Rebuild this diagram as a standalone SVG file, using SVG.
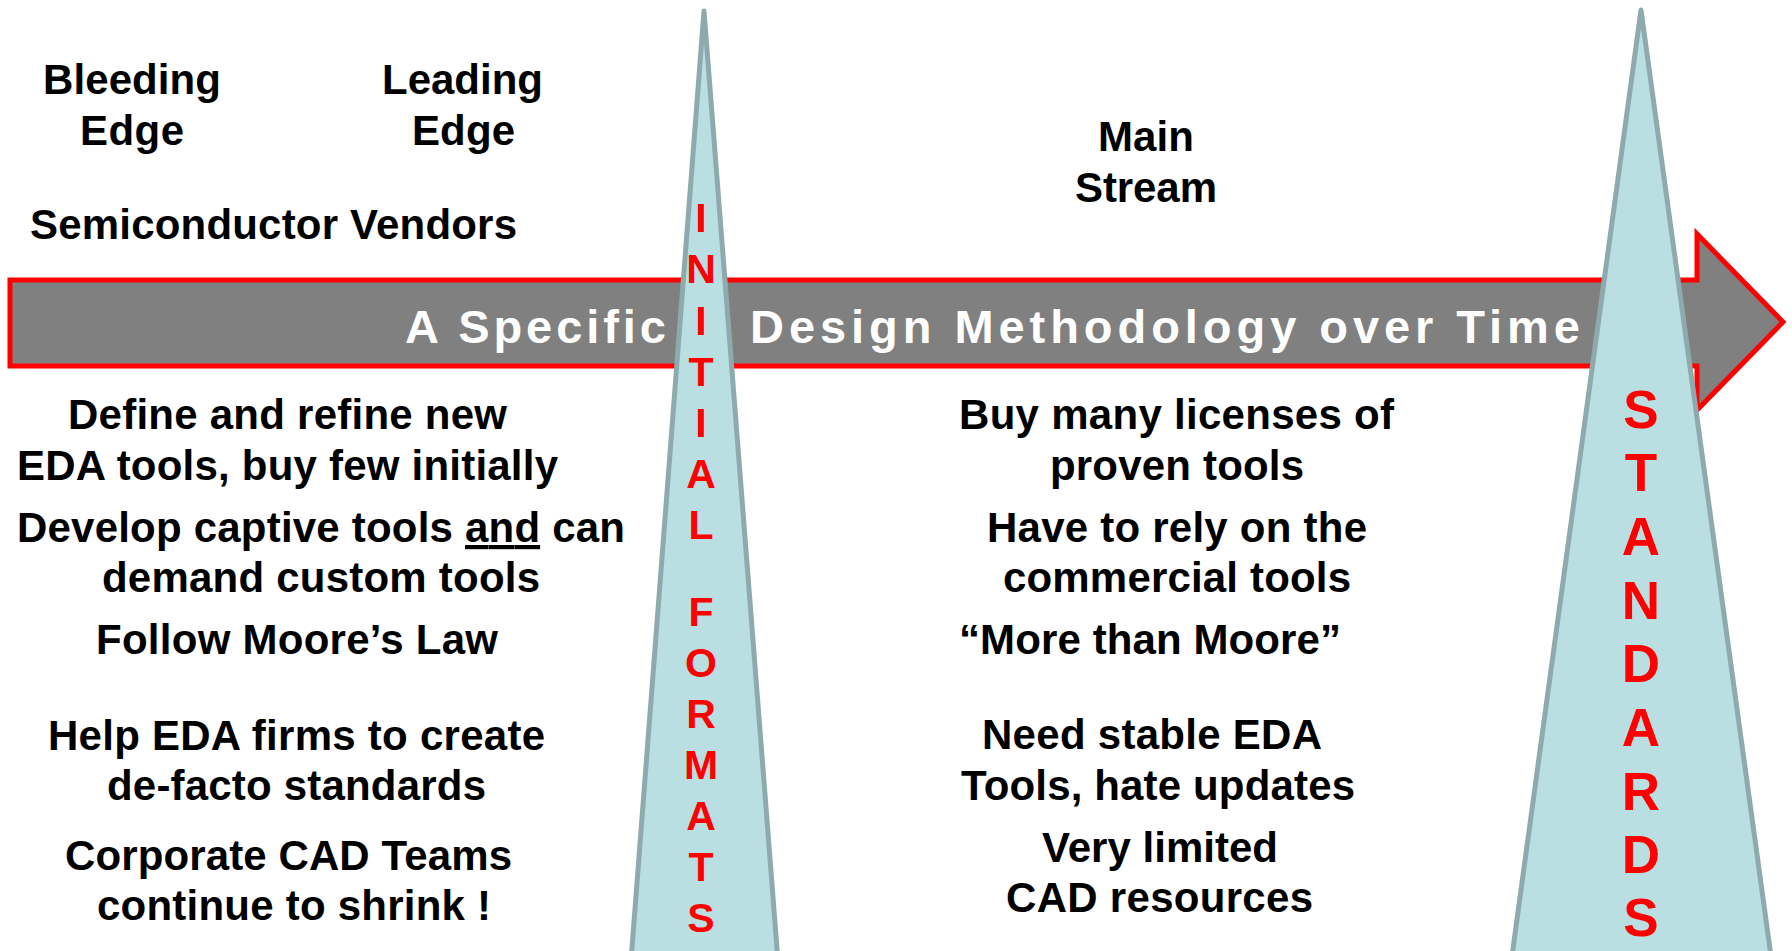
<svg xmlns="http://www.w3.org/2000/svg" width="1792" height="951" viewBox="0 0 1792 951">
<style>
.t{font-family:"Liberation Sans",Arial,sans-serif;font-weight:bold;font-size:42px;fill:#000}
.bt{font-family:"Liberation Sans",Arial,sans-serif;font-weight:bold;font-size:47px;fill:#fff}
.init{font-family:"Liberation Sans",Arial,sans-serif;font-weight:bold;font-size:41px;fill:#f00;text-anchor:middle}
.std{font-family:"Liberation Sans",Arial,sans-serif;font-weight:bold;font-size:53px;fill:#f00;text-anchor:middle}
.tri{fill:#badfe3;stroke:#8eaaac;stroke-width:5;stroke-linejoin:round}
.u{text-decoration:underline}
</style>
<rect width="1792" height="951" fill="#fff"/>
<g id="timeline">
<path d="M10,280 H1697 V234 L1783,322 L1697,410 V366 H10 Z" fill="#808080" stroke="#f00" stroke-width="5" stroke-miterlimit="10"/>
<text class="bt" x="405" y="343" textLength="261" lengthAdjust="spacing">A Specific</text>
<text class="bt" x="750" y="343" textLength="830" lengthAdjust="spacing">Design Methodology over Time</text>
</g>
<g id="initial-formats">
<polygon class="tri" points="704,11 628,1000 781,1000"/>
<text class="init" x="701" y="232">I</text>
<text class="init" x="701" y="283">N</text>
<text class="init" x="701" y="335">I</text>
<text class="init" x="701" y="386">T</text>
<text class="init" x="701" y="437">I</text>
<text class="init" x="701" y="488">A</text>
<text class="init" x="701" y="539">L</text>
<text class="init" x="701" y="626">F</text>
<text class="init" x="701" y="677">O</text>
<text class="init" x="701" y="728">R</text>
<text class="init" x="701" y="779">M</text>
<text class="init" x="701" y="830">A</text>
<text class="init" x="701" y="881">T</text>
<text class="init" x="701" y="932">S</text>
</g>
<g id="standards">
<polygon class="tri" points="1641,10 1506,1000 1777,1000"/>
<text class="std" x="1641" y="428">S</text>
<text class="std" x="1641" y="491">T</text>
<text class="std" x="1641" y="555">A</text>
<text class="std" x="1641" y="619">N</text>
<text class="std" x="1641" y="682">D</text>
<text class="std" x="1641" y="746">A</text>
<text class="std" x="1641" y="810">R</text>
<text class="std" x="1641" y="873">D</text>
<text class="std" x="1641" y="936">S</text>
</g>
<g id="bleeding-edge">
<text class="t" x="43" y="94" textLength="178" lengthAdjust="spacing">Bleeding</text>
<text class="t" x="80" y="145" textLength="104" lengthAdjust="spacing">Edge</text>
</g>
<g id="leading-edge">
<text class="t" x="382" y="94" textLength="161" lengthAdjust="spacing">Leading</text>
<text class="t" x="412" y="145" textLength="103" lengthAdjust="spacing">Edge</text>
</g>
<g id="semiconductor-vendors">
<text class="t" x="30" y="239" textLength="487" lengthAdjust="spacing">Semiconductor Vendors</text>
</g>
<g id="main-stream">
<text class="t" x="1098" y="151" textLength="96" lengthAdjust="spacing">Main</text>
<text class="t" x="1075" y="202" textLength="142" lengthAdjust="spacing">Stream</text>
</g>
<g id="left-column">
<text class="t" x="68" y="429" textLength="439" lengthAdjust="spacing">Define and refine new</text>
<text class="t" x="17" y="480" textLength="541" lengthAdjust="spacing">EDA tools, buy few initially</text>
<text class="t" x="17" y="542" textLength="608" lengthAdjust="spacing">Develop captive tools <tspan class="u">and</tspan> can</text>
<text class="t" x="102" y="592" textLength="438" lengthAdjust="spacing">demand custom tools</text>
<text class="t" x="96" y="654" textLength="402" lengthAdjust="spacing">Follow Moore’s Law</text>
<text class="t" x="48" y="750" textLength="497" lengthAdjust="spacing">Help EDA firms to create</text>
<text class="t" x="107" y="800" textLength="379" lengthAdjust="spacing">de-facto standards</text>
<text class="t" x="65" y="870" textLength="447" lengthAdjust="spacing">Corporate CAD Teams</text>
<text class="t" x="97" y="920" textLength="394" lengthAdjust="spacing">continue to shrink !</text>
</g>
<g id="right-column">
<text class="t" x="959" y="429" textLength="435" lengthAdjust="spacing">Buy many licenses of</text>
<text class="t" x="1050" y="480" textLength="254" lengthAdjust="spacing">proven tools</text>
<text class="t" x="987" y="542" textLength="380" lengthAdjust="spacing">Have to rely on the</text>
<text class="t" x="1003" y="592" textLength="348" lengthAdjust="spacing">commercial tools</text>
<text class="t" x="959" y="654" textLength="382" lengthAdjust="spacing">“More than Moore”</text>
<text class="t" x="982" y="749" textLength="340" lengthAdjust="spacing">Need stable EDA</text>
<text class="t" x="961" y="800" textLength="394" lengthAdjust="spacing">Tools, hate updates</text>
<text class="t" x="1042" y="862" textLength="236" lengthAdjust="spacing">Very limited</text>
<text class="t" x="1006" y="912" textLength="307" lengthAdjust="spacing">CAD resources</text>
</g>
<g id="connectors"/>
</svg>
